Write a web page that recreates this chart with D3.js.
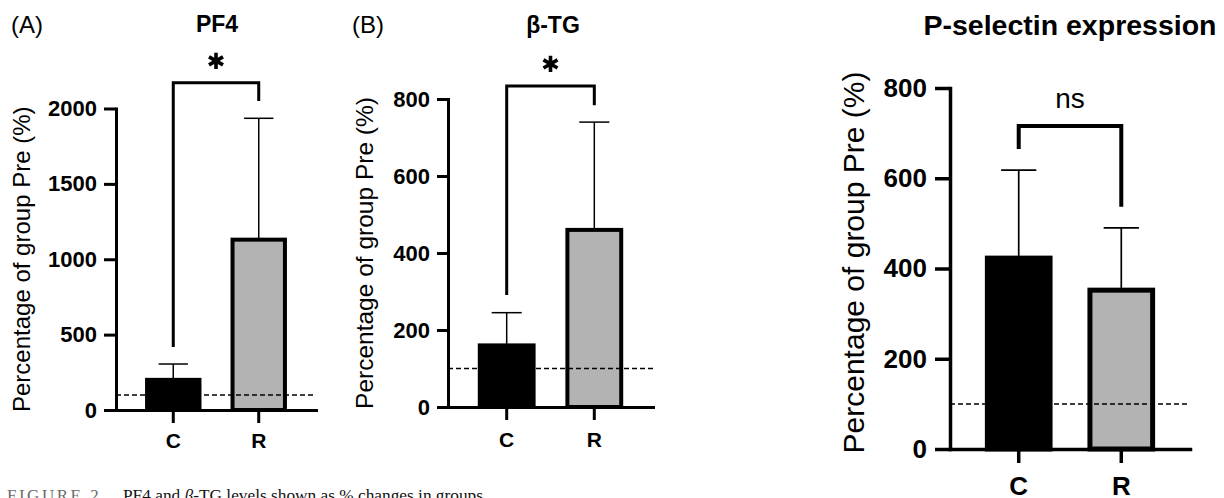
<!DOCTYPE html>
<html>
<head>
<meta charset="utf-8">
<script src="https://cdn.jsdelivr.net/npm/d3@7"></script>
<style>
body{margin:0;background:#fff}
svg{display:block}
</style>
</head>
<body>
<svg id="chart" width="1224" height="498"></svg>
<script>
const FONT = '"Liberation Sans", Arial, Helvetica, sans-serif'
const SERIF = '"Liberation Serif", "DejaVu Serif", serif'

// data (percent of group Pre)
const groups = ["C", "R"]
const barFill = ["#000000", "#b3b3b3"]

const pf4Mean = [200, 1130]
const pf4Err = [105, 805]
const pf4Ticks = [0, 500, 1000, 1500, 2000]
const pf4Bracket = [2170, 418, 2050]   // top, left leg end, right leg end

const btgMean = [160, 460]
const btgErr = [85, 280]
const btgTicks = [0, 200, 400, 600, 800]
const btgBracket = [834, 291, 784]

const pselMean = [423, 352]
const pselErr = [195, 138]
const pselTicks = [0, 200, 400, 600, 800]
const pselBracket = [716, 665, 537]

const baseline = 100
const yLabel = "Percentage of group Pre (%)"

const svg = d3.select("#chart")

function drawPanel(p){
  const g = svg.append("g")
  const y = d3.scaleLinear().domain([0, p.max]).range([p.yBase, p.yTop])
  const x = d3.scaleBand().domain(groups).range([p.x0, p.x1]).paddingInner(0.34).paddingOuter(0.34)
  const bw = x.bandwidth()

  // error bars (upper only)
  const eb = g.append("g").attr("stroke", "#000").attr("stroke-width", p.ew)
  groups.forEach((c, i) => {
    const cx = x(c) + bw / 2
    eb.append("line").attr("x1", cx).attr("x2", cx).attr("y1", y(p.mean[i])).attr("y2", y(p.mean[i] + p.err[i]))
    eb.append("line").attr("x1", cx - bw * 0.26).attr("x2", cx + bw * 0.26)
      .attr("y1", y(p.mean[i] + p.err[i])).attr("y2", y(p.mean[i] + p.err[i]))
  })

  // bars
  g.selectAll(".bar").data(groups).join("rect")
    .attr("x", d => x(d) + p.bs / 2)
    .attr("width", bw - p.bs)
    .attr("y", (d, i) => y(p.mean[i]))
    .attr("height", (d, i) => y(0) - y(p.mean[i]))
    .attr("fill", (d, i) => barFill[i])
    .attr("stroke", "#000").attr("stroke-width", p.bs)

  // dashed 100% line
  g.append("line").attr("x1", p.x0).attr("x2", p.x1).attr("y1", y(baseline)).attr("y2", y(baseline))
    .attr("stroke", "#000").attr("stroke-width", 1.5).attr("stroke-dasharray", "5,3")

  // y axis
  const ya = g.append("g").attr("transform", `translate(${p.x0},0)`)
    .call(d3.axisLeft(y).tickValues(p.ticks).tickSize(p.tick).tickSizeOuter(0).tickPadding(p.pad).tickFormat(d3.format("d")))
  ya.attr("font-family", FONT).attr("font-size", p.tf).attr("font-weight", "bold")
  ya.selectAll("path,line").attr("stroke", "#000").attr("stroke-width", p.aw)
  ya.select("path").attr("stroke-linecap", "square")
  ya.selectAll("text").attr("fill", "#000")

  // x axis
  const xa = g.append("g").attr("transform", `translate(0,${p.yBase})`)
    .call(d3.axisBottom(x).tickSize(p.btick).tickSizeOuter(0).tickPadding(p.bpad))
  xa.attr("font-family", FONT).attr("font-size", p.cf).attr("font-weight", "bold")
  xa.selectAll("path,line").attr("stroke", "#000").attr("stroke-width", p.aw)
  xa.select("path").attr("stroke-linecap", "square")
  xa.selectAll("text").attr("fill", "#000")

  // significance bracket
  const xl = x(groups[0]) + bw / 2, xr = x(groups[1]) + bw / 2
  const br = p.bracket
  g.append("path")
    .attr("d", `M${xl},${y(br[1])}V${y(br[0])}H${xr}V${y(br[2])}`)
    .attr("fill", "none").attr("stroke", "#000").attr("stroke-width", p.sw)
  const mx = (xl + xr) / 2
  if(p.sig === "*"){
    g.append("path").attr("d", d3.symbol(d3.symbolAsterisk, 185)())
      .attr("transform", `translate(${mx},${y(br[0]) - 22})`)
      .attr("fill", "none").attr("stroke", "#000").attr("stroke-width", 3.6)
  }else{
    g.append("text").attr("x", mx).attr("y", y(br[0]) - 18).attr("text-anchor", "middle")
      .attr("font-family", FONT).attr("font-size", 28).text(p.sig)
  }

  // y label
  g.append("text")
    .attr("transform", `translate(${p.lx},${(p.yBase + p.yTop) / 2 + p.ldy}) rotate(-90)`)
    .attr("text-anchor", "middle").attr("font-family", FONT).attr("font-size", p.lf)
    .text(yLabel)

  // title and tag
  g.append("text").attr("x", p.titleX).attr("y", p.titleY).attr("text-anchor", "middle")
    .attr("font-family", FONT).attr("font-weight", "bold").attr("font-size", p.titleF).text(p.title)
  if(p.tag){
    g.append("text").attr("x", p.tagX).attr("y", 33)
      .attr("font-family", FONT).attr("font-size", 24).text(p.tag)
  }
}

drawPanel({mean: pf4Mean, err: pf4Err, ticks: pf4Ticks, bracket: pf4Bracket, sig: "*", max: 2000,
  x0: 116, x1: 316, yBase: 410, yTop: 108.5, tick: 12, pad: 7, btick: 13, bpad: 10,
  tf: 22, cf: 21, aw: 3, bs: 4, ew: 1.5, sw: 3, lx: 30, ldy: 0, lf: 24,
  title: "PF4", titleX: 217, titleY: 32, titleF: 23, tag: "(A)", tagX: 11})

drawPanel({mean: btgMean, err: btgErr, ticks: btgTicks, bracket: btgBracket, sig: "*", max: 800,
  x0: 448, x1: 653, yBase: 407, yTop: 99, tick: 11, pad: 7, btick: 13, bpad: 12,
  tf: 22, cf: 21, aw: 3, bs: 4, ew: 1.5, sw: 3, lx: 373, ldy: 0, lf: 24.5,
  title: "β-TG", titleX: 553, titleY: 33, titleF: 23, tag: "(B)", tagX: 352})

drawPanel({mean: pselMean, err: pselErr, ticks: pselTicks, bracket: pselBracket, sig: "ns", max: 800,
  x0: 950, x1: 1190, yBase: 449, yTop: 88, tick: 15, pad: 8, btick: 14, bpad: 14,
  tf: 26, cf: 26, aw: 3.5, bs: 5, ew: 1.7, sw: 4, lx: 864, ldy: -6, lf: 30,
  title: "P-selectin expression", titleX: 1070, titleY: 35, titleF: 28.5})

// caption (cut off at the bottom edge)
svg.append("text").attr("x", 7).attr("y", 501)
  .attr("font-family", SERIF).attr("font-size", 17).attr("fill", "#6b6b6b")
  .attr("letter-spacing", 2.5).text("FIGURE 2")
const cap = svg.append("text").attr("x", 123).attr("y", 501)
  .attr("font-family", SERIF).attr("font-size", 17).attr("fill", "#111")
  .attr("textLength", 360).attr("lengthAdjust", "spacingAndGlyphs")
cap.append("tspan").text("PF4 and ")
cap.append("tspan").attr("font-style", "italic").text("β")
cap.append("tspan").text("-TG levels shown as % changes in groups")
</script>
</body>
</html>
